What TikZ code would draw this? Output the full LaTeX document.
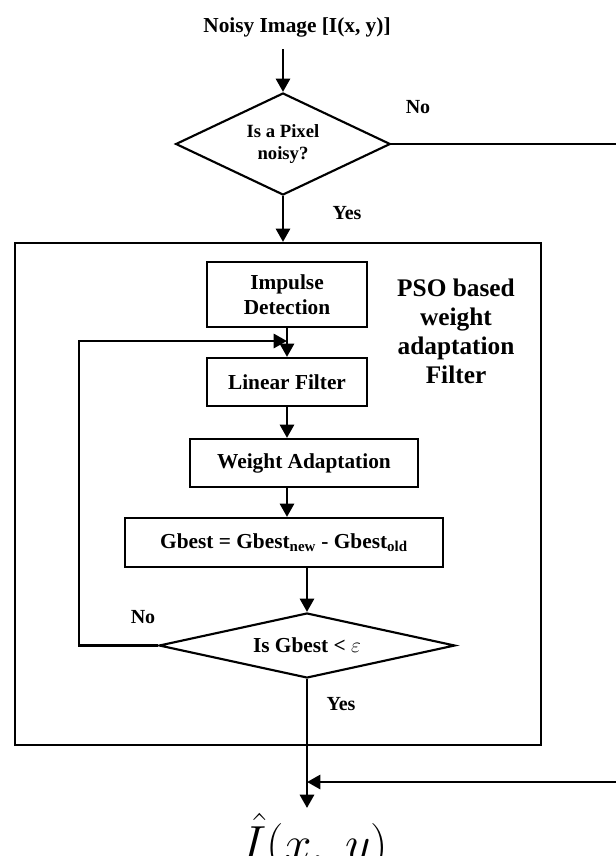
\RequirePackage{fix-cm}
\documentclass[tikz,border=0pt]{standalone}
\usepackage{fontspec}
\setmainfont{Liberation Serif}
\usetikzlibrary{positioning, arrows.meta, shapes.geometric}

\begin{document}
\begin{tikzpicture}[
  x=0.75pt, y=-0.75pt,
  every node/.style={font=\bfseries},
  procbox/.style={
    rectangle, draw=black, line width=1.6pt,
    font=\fontsize{16}{19}\selectfont\bfseries,
    align=center, inner sep=2pt
  },
  decision/.style={
    diamond, draw=black, line width=1.6pt,
    align=center, inner sep=0pt
  },
  frame/.style={
    rectangle, draw=black, line width=1.6pt, inner sep=0pt
  },
  lbl/.style={font=\fontsize{15}{18}\selectfont\bfseries},
  flowarrow/.style={
    line width=2.2pt, -{Triangle[length=10pt, width=10.5pt]}
  }
]

\useasboundingbox (0,0) rectangle (616,856);

%% Column x-positions
\def\xA{283}
\def\xB{287}
\def\xC{307}

%% === INPUT AND FIRST TEST ===
\node[font=\fontsize{16}{19}\selectfont\bfseries] (inp) at (297,27) {Noisy Image [I(x, y)]};
\node[decision, aspect=2.1, font=\fontsize{14}{17}\selectfont\bfseries,
      minimum width=161pt, minimum height=76.5pt] (dec1) at (\xA,144) {Is a Pixel\\noisy?};

%% === PSO FILTER BLOCK ===
\node[frame, minimum width=394.5pt, minimum height=376.5pt] (pso) at (278,494) {};
\node[font=\fontsize{19}{21.75}\selectfont\bfseries, align=center] (psotxt) at (456,331)
  {PSO based\\weight\\adaptation\\Filter};

\node[procbox, minimum width=120pt, minimum height=48.75pt] (imp) at (\xB,294.5) {Impulse\\Detection};
\node[procbox, minimum width=120pt, minimum height=36pt] (lin) at (\xB,382) {Linear Filter};
\node[procbox, minimum width=171pt, minimum height=36pt] (wgt) at (304,463) {Weight Adaptation};
\node[procbox, minimum width=238.5pt, minimum height=36.75pt] (gb) at (284,542.5)
  {Gbest = Gbest\textsubscript{new} - Gbest\textsubscript{old}};
\node[decision, aspect=4.5, font=\fontsize{16}{19}\selectfont\bfseries,
      minimum width=222pt, minimum height=48.75pt] (dec2) at (\xC,645.5) {Is Gbest < $\varepsilon$};

%% === OUTPUT ===
\node[anchor=base, font=\fontsize{37}{44}\selectfont] (out) at (315,860)
  {$\hat{I}(x,\ y)$};

%% === LABELS ===
\node[lbl] (no1) at (418,107) {No};
\node[lbl] (yes1) at (347,213) {Yes};
\node[lbl] (no2) at (143,617) {No};
\node[lbl] (yes2) at (341,704) {Yes};

%% === HELPER POINTS ===
\coordinate (lpL) at (79,341);
\coordinate (lpR) at (\xB,341);
\coordinate (rtTop) at (625,144);
\coordinate (rtBot) at (625,782);
\coordinate (join) at (\xC,782);
\coordinate (outtip) at (\xC,808);

%% === FORWARD ARROWS ===
\draw[flowarrow] (inp.south) ++(-14,8) -- (dec1.north);
\draw[flowarrow] (dec1.south) -- (dec1.south |- pso.north);
\draw[flowarrow] (imp.south) -- (lin.north);
\draw[flowarrow] (lin.south) -- (lin.south |- wgt.north);
\draw[flowarrow] (lin.south |- wgt.south) -- (lin.south |- gb.north);
\draw[flowarrow] (dec2.north |- gb.south) -- (dec2.north);
\draw[flowarrow] (dec2.south) -- (outtip);

%% === LOOP BACK (No) ===
\draw[flowarrow] (dec2.west) -| (lpL) -- (lpR);

%% === BYPASS (pixel not noisy) ===
\draw[flowarrow] (dec1.east) -- (rtTop) -- (rtBot) -- (join);

\end{tikzpicture}
\end{document}
